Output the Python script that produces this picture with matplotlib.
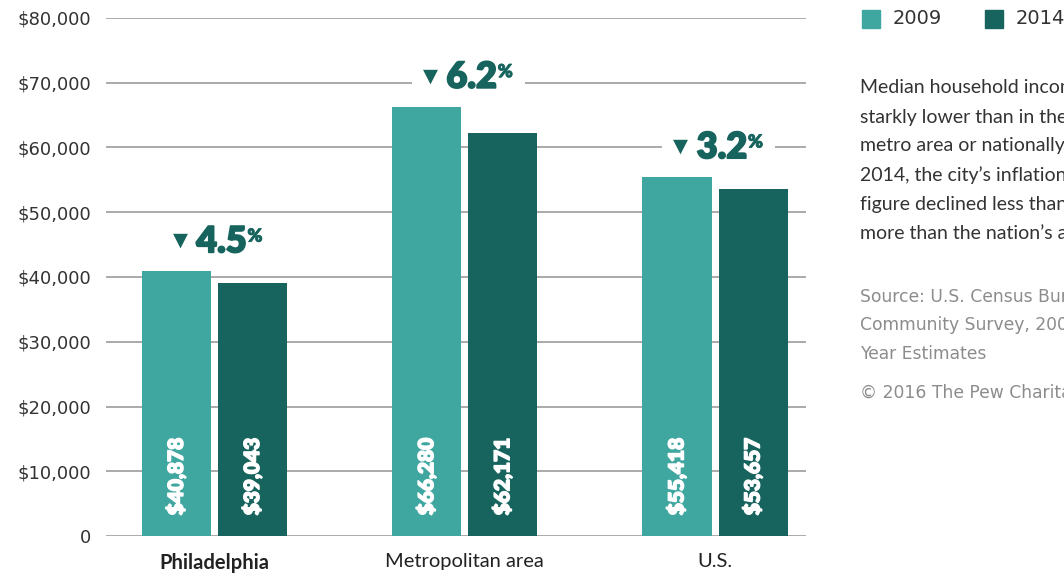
import matplotlib
matplotlib.use("Agg")
import matplotlib.pyplot as plt
import matplotlib.patheffects as pe
from matplotlib.transforms import Bbox
import numpy as np

# Median household income, inflation-adjusted
categories = ["Philadelphia", "Metropolitan area", "U.S."]
income_2009 = [40878, 66280, 55418]
income_2014 = [39043, 62171, 53657]
series_labels = ["2009", "2014"]
y_ticks = [0, 10000, 20000, 30000, 40000, 50000, 60000, 70000, 80000]

note_lines = [
    "Median household income in Philadelphia is",
    "starkly lower than in the surrounding",
    "metro area or nationally. From 2009 to",
    "2014, the city\u2019s inflation-adjusted",
    "figure declined less than the region\u2019s but",
    "more than the nation\u2019s average.",
]
source_lines = [
    "Source: U.S. Census Bureau, American",
    "Community Survey, 2009 and 2014 1-",
    "Year Estimates",
]
copyright_line = "\u00a9 2016 The Pew Charitable Trusts"

C2009 = "#40a6a0"
C2014 = "#17645e"
GRID = "#9c9c9c"
TEXT = "#333333"
GRAYTXT = "#8c8c8c"

W, H = 1064, 573
fig = plt.figure(figsize=(W / 100, H / 100), dpi=100)
fig.patch.set_facecolor("white")


def fx(px):
    return px / W


def fy(py):
    return 1 - py / H


ax = fig.add_axes([fx(106), fy(536), fx(806) - fx(106), fy(18) - fy(536)])

x = np.arange(len(categories))
width = 0.276
offset = 0.152
ax.bar(x - offset, income_2009, width, color=C2009, zorder=2)
ax.bar(x + offset, income_2014, width, color=C2014, zorder=2)

ax.set_ylim(0, 80000)
ax.set_xlim(-0.4336, 2.3636)
ax.set_yticks(y_ticks)
ax.set_yticklabels(["0" if v == 0 else f"${v:,.0f}" for v in y_ticks],
                   fontsize=13, color=TEXT, family="DejaVu Sans")
ax.yaxis.grid(True, color=GRID, linewidth=1.2, zorder=0)
ax.set_axisbelow(True)
for s in ax.spines.values():
    s.set_visible(False)
ax.tick_params(axis="y", length=0, pad=10.5)
ax.tick_params(axis="x", length=0, pad=12.5)
ax.set_xticks(x)
ax.set_xticklabels(categories, fontsize=14.5, color="#222222", family="Lato")
ax.get_xticklabels()[0].set_fontweight("bold")

# Values written inside the bars (thickened with a same-colour stroke)
heavy_white = [pe.withStroke(linewidth=1.0, foreground="white")]
for xi, v in zip(x - offset, income_2009):
    ax.text(xi, 3200, f"${v:,.0f}", rotation=90, ha="center", va="bottom",
            color="white", fontsize=15, fontweight="heavy", family="Lato",
            zorder=3, path_effects=heavy_white)
for xi, v in zip(x + offset, income_2014):
    ax.text(xi, 3200, f"${v:,.0f}", rotation=90, ha="center", va="bottom",
            color="white", fontsize=15, fontweight="heavy", family="Lato",
            zorder=3, path_effects=heavy_white)

# Percent decline callouts
heavy_dark = [pe.withStroke(linewidth=1.2, foreground=C2014)]
callouts = []
for xi, a, b in zip(x, income_2009, income_2014):
    pct = (a - b) / a * 100
    num = ax.annotate(f"{pct:.1f}", xy=(xi, a + 4550), xytext=(5, 0),
                      textcoords="offset points", ha="center", va="center",
                      fontsize=26, fontweight="heavy", family="Lato", color=C2014,
                      zorder=4, path_effects=heavy_dark)
    tri = ax.annotate("\u25bc", xy=(0, 0.55), xycoords=num, xytext=(-6, 0),
                      textcoords="offset points", ha="right", va="center",
                      fontsize=14, color=C2014, family="DejaVu Sans", zorder=4)
    pc = ax.annotate("%", xy=(1, 0.93), xycoords=num, xytext=(0.5, 0),
                     textcoords="offset points", ha="left", va="top",
                     fontsize=13, fontweight="heavy", color=C2014, family="Lato",
                     zorder=4, path_effects=[pe.withStroke(linewidth=0.6, foreground=C2014)])
    callouts.append((num, tri, pc))

# White backing behind each callout so the gridline breaks around it
fig.canvas.draw()
renderer = fig.canvas.get_renderer()
for group in callouts:
    bb = Bbox.union([t.get_window_extent(renderer) for t in group])
    x0, y0 = bb.x0 - 11, bb.y0 - 4
    x1, y1 = bb.x1 + 12, bb.y1 + 4
    (dx0, dy0), (dx1, dy1) = ax.transData.inverted().transform([(x0, y0), (x1, y1)])
    ax.add_patch(plt.Rectangle((dx0, dy0), dx1 - dx0, dy1 - dy0,
                               facecolor="white", edgecolor="none", zorder=1))

# Legend
for sx, label, col in [(862, series_labels[0], C2009), (985, series_labels[1], C2014)]:
    fig.patches.append(plt.Rectangle((fx(sx), fy(28)), 18 / W, 18 / H,
                                     transform=fig.transFigure, color=col))
    fig.text(fx(sx + 31), fy(19), label, ha="left", va="center",
             fontsize=14, color=TEXT, family="DejaVu Sans")

# Side notes
for i, line in enumerate(note_lines):
    fig.text(fx(860), fy(88 + 29 * i), line, ha="left", va="center",
             fontsize=14, color=TEXT, family="Lato")
for i, line in enumerate(source_lines):
    fig.text(fx(860), fy(297 + 28.5 * i), line, ha="left", va="center",
             fontsize=12.3, color=GRAYTXT, family="DejaVu Sans")
fig.text(fx(860), fy(393), copyright_line, ha="left", va="center",
         fontsize=12.3, color=GRAYTXT, family="DejaVu Sans")

fig.savefig("out.png", dpi=100)
